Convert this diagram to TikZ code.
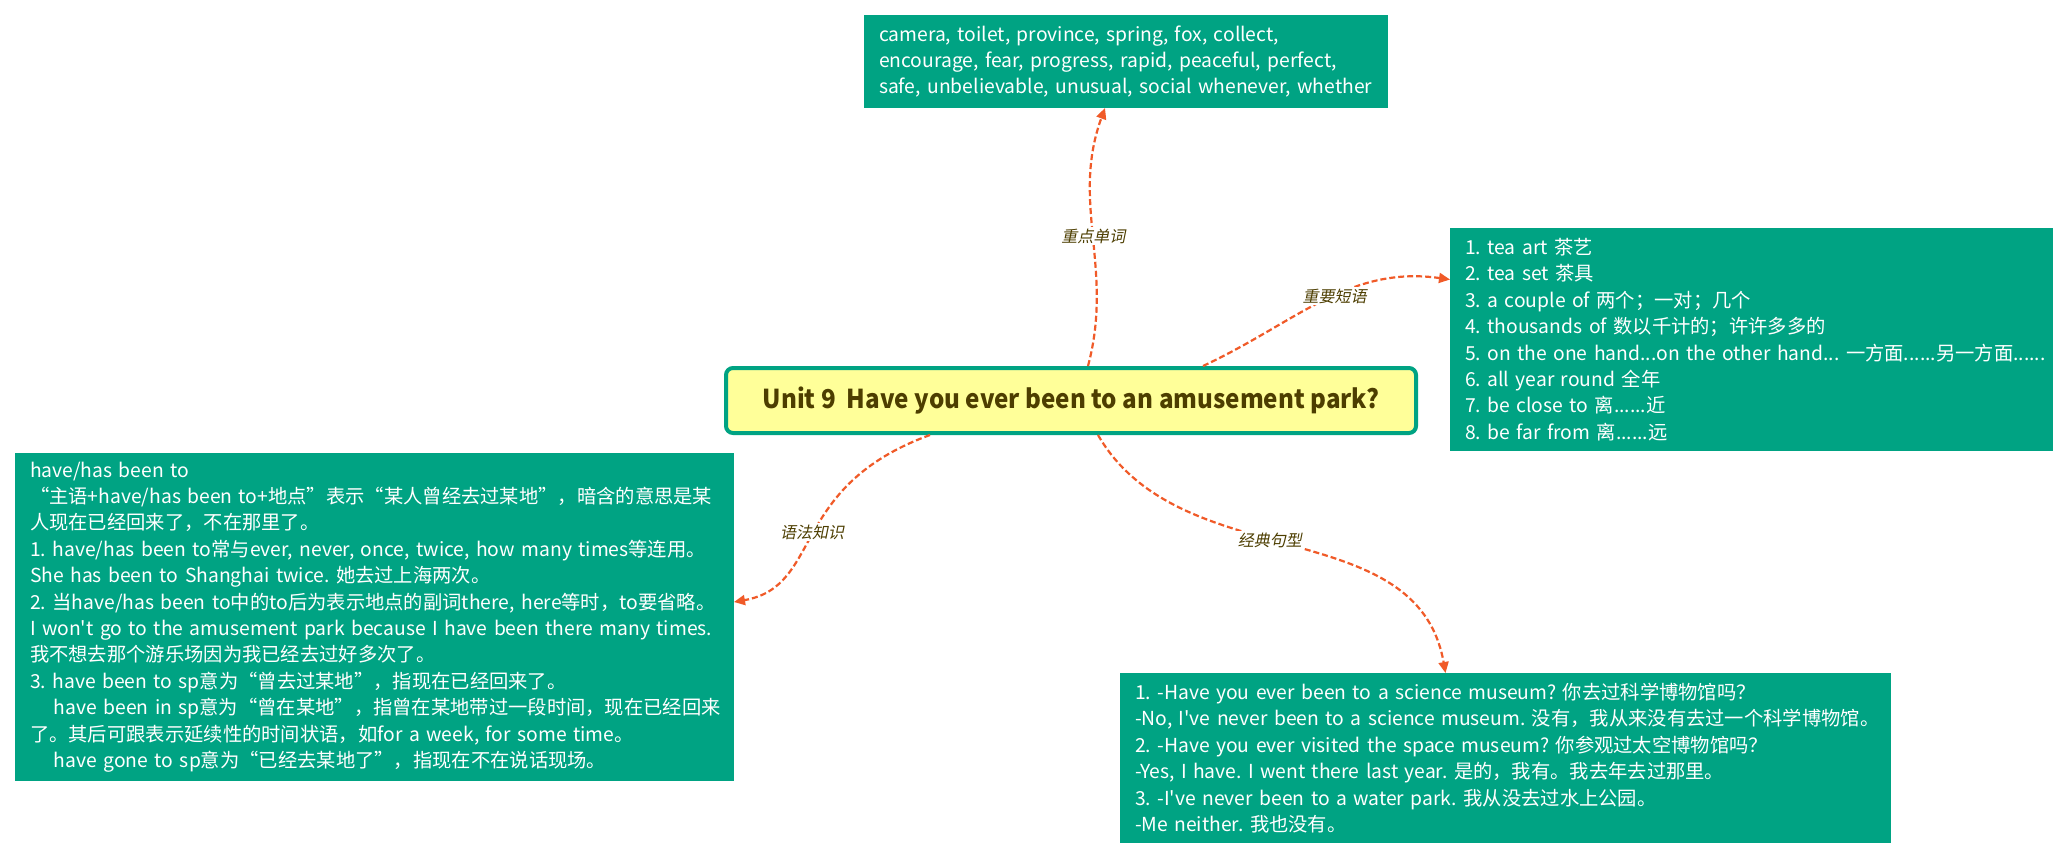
\documentclass[tikz,border=0pt]{standalone}
\usepackage{fontspec}
\setmainfont{Noto Sans CJK SC}[Ligatures=TeXOff]
\newfontfamily\slantcjk{Noto Sans CJK SC}[FakeSlant=0.2]
\newfontfamily\rootfont{Noto Sans CJK SC}[FakeStretch=0.93]
\usetikzlibrary{arrows.meta}
\definecolor{boxteal}{RGB}{0,163,131}
\definecolor{rootyellow}{RGB}{255,255,153}
\definecolor{linkred}{RGB}{240,90,40}
\definecolor{olivetext}{RGB}{77,62,0}
\frenchspacing

\begin{document}
\begin{tikzpicture}[x=1pt,y=1pt,
  topic/.style={fill=boxteal,text=white,align=left,inner xsep=15pt,inner ysep=0pt,outer sep=0pt,
    font=\fontsize{19.3}{26.4}\selectfont},
  link/.style={draw=linkred,line width=2.2pt,dash pattern=on 6pt off 3pt,
    -{Triangle[length=11pt,width=10pt]}},
  linklabel/.style={fill=white,inner sep=2pt,text=olivetext,font=\slantcjk\fontsize{16}{18}\selectfont}]
  \path[use as bounding box,fill=white] (0,0) rectangle (2069,-860);

  \node[draw=boxteal,line width=4pt,fill=rootyellow,rounded corners=7pt,minimum width=690pt,
    minimum height=65pt,text=olivetext,font=\rootfont\bfseries\fontsize{26}{30}\selectfont]
    (unit) at (1071,-400.5) {Unit 9\ \ Have you ever been to an amusement park?};

  \node[topic,text width=494pt,minimum height=93pt] (words) at (1126,-61.5)
    {camera, toilet, province, spring, fox, collect,\\
     encourage, fear, progress, rapid, peaceful, perfect,\\
     safe, unbelievable, unusual, social whenever, whether};

  \node[topic,text width=573pt,minimum height=223pt] (phrases) at (1751.5,-339.5)
    {1. tea art 茶艺\\
     2. tea set 茶具\\
     3. a couple of 两个；一对；几个\\
     4. thousands of 数以千计的；许许多多的\\
     \mbox{5. on the one hand...on the other hand... 一方面......另一方面......}\\
     6. all year round 全年\\
     7. be close to 离......近\\
     8. be far from 离......远};

  \node[topic,text width=689pt,minimum height=328pt] (grammar) at (374.5,-617)
    {have/has been to\\
     “主语+have/has been to+地点”表示“某人曾经去过某地”，暗含的意思是某\\
     人现在已经回来了，不在那里了。\\
     1. have/has been to常与ever, never, once, twice, how many times等连用。\\
     She has been to Shanghai twice. 她去过上海两次。\\
     2. 当have/has been to中的to后为表示地点的副词there, here等时，to要省略。\\
     I won't go to the amusement park because I have been there many times.\\
     我不想去那个游乐场因为我已经去过好多次了。\\
     3. have been to sp意为“曾去过某地”，指现在已经回来了。\\
     \hspace*{24pt}have been in sp意为“曾在某地”，指曾在某地带过一段时间，现在已经回来\\
     了。其后可跟表示延续性的时间状语，如for a week, for some time。\\
     \hspace*{24pt}have gone to sp意为“已经去某地了”，指现在不在说话现场。};

  \node[topic,text width=741pt,minimum height=170pt] (sentences) at (1505.5,-758)
    {1. -Have you ever been to a science museum? 你去过科学博物馆吗？\\
     -No, I've never been to a science museum. 没有，我从来没有去过一个科学博物馆。\\
     2. -Have you ever visited the space museum? 你参观过太空博物馆吗？\\
     -Yes, I have. I went there last year. 是的，我有。我去年去过那里。\\
     3. -I've never been to a water park. 我从没去过水上公园。\\
     -Me neither. 我也没有。};

  \draw[link] ([xshift=17pt]unit.north) to[out=75,in=-110]
    node[linklabel,pos=0.5] {重点单词} ([xshift=-21pt]words.south);
  \draw[link] ([xshift=132pt]unit.north) to[out=25,in=172]
    node[linklabel,pos=0.55] {重要短语} ([yshift=60pt]phrases.west);
  \draw[link] ([xshift=-141pt]unit.south) to[out=200,in=10,out looseness=1.5,in looseness=0.9]
    node[linklabel,pos=0.5] {语法知识} ([yshift=15pt]grammar.east);
  \draw[link] ([xshift=27pt]unit.south) to[out=-60,in=100]
    node[linklabel,pos=0.45] {经典句型} ([xshift=-60pt]sentences.north);
\end{tikzpicture}
\end{document}
